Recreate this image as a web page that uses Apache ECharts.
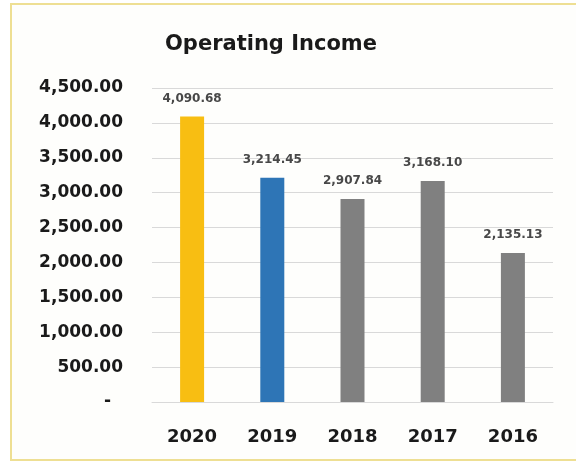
<!DOCTYPE html>
<html>
<head>
<meta charset="utf-8">
<script src="https://cdn.jsdelivr.net/npm/echarts@6/dist/echarts.min.js"></script>
<style>
  html, body { margin: 0; padding: 0; background: #ffffff; }
  #chart { width: 576px; height: 463px; }
</style>
</head>
<body>
<div id="chart"></div>
<script>
// Operating income by year
const years = ['2020', '2019', '2018', '2017', '2016'];
const income = [4090.68, 3214.45, 2907.84, 3168.10, 2135.13];
const barColors = ['#F8BE12', '#2E75B6', '#808080', '#808080', '#808080'];
const yTicks = { min: 0, max: 4500, step: 500 };

const fmt = v => v.toLocaleString('en-US', { minimumFractionDigits: 2, maximumFractionDigits: 2 });
const font = '"DejaVu Sans", sans-serif';

const chart = echarts.init(document.getElementById('chart'), null, { renderer: 'canvas' });
chart.setOption({
  backgroundColor: '#ffffff',
  animation: false,
  graphic: [
    {
      type: 'rect', z: -10,
      shape: { x: 11, y: 4, width: 580, height: 456 },
      style: { fill: '#fefefc', stroke: '#eedf93', lineWidth: 2 }
    },
    {
      type: 'text', left: 165, top: 34,
      style: { text: 'Operating Income', font: 'bold 21px ' + font, fill: '#1a1a1a' }
    }
  ],
  grid: { left: 152, right: 23, top: 88, bottom: 61 },
  xAxis: {
    type: 'category',
    data: years,
    axisLine: { lineStyle: { color: '#d9d9d9', width: 1 } },
    axisTick: { show: false },
    axisLabel: { margin: 26, fontFamily: font, fontWeight: 'bold', fontSize: 18, color: '#1a1a1a' }
  },
  yAxis: {
    type: 'value',
    min: yTicks.min, max: yTicks.max, interval: yTicks.step,
    axisLine: { show: false },
    axisTick: { show: false },
    splitLine: { lineStyle: { color: '#d9d9d9', width: 1 } },
    axisLabel: {
      margin: 29, fontFamily: font, fontWeight: 'bold', fontSize: 17, color: '#1a1a1a',
      formatter: v => v === 0 ? '-  ' : fmt(v)
    }
  },
  series: [{
    type: 'bar',
    barWidth: 24,
    data: income.map((v, i) => ({ value: v, itemStyle: { color: barColors[i] } })),
    label: {
      show: true, position: 'top', distance: 12,
      fontFamily: font, fontWeight: 'bold', fontSize: 12, color: '#484848',
      formatter: p => fmt(p.value)
    }
  }]
});
</script>
</body>
</html>
